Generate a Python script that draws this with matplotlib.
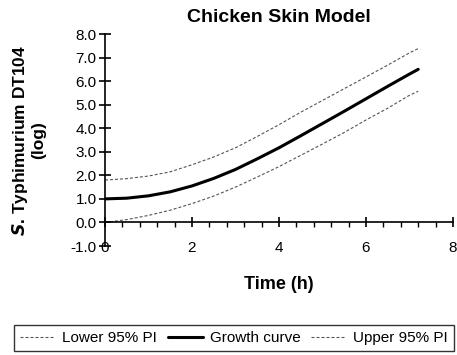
import matplotlib.pyplot as plt
from matplotlib.ticker import MultipleLocator, FormatStrFormatter

plt.rcParams['font.family'] = ['Liberation Sans', 'DejaVu Sans']

# time (h) and log counts
time_h = [0, 0.5, 1, 1.5, 2, 2.5, 3, 3.5, 4, 4.5, 5, 5.5, 6, 6.5, 7, 7.2]
growth = [1.00, 1.03, 1.13, 1.30, 1.55, 1.87, 2.25, 2.70, 3.17, 3.68,
          4.20, 4.72, 5.25, 5.78, 6.30, 6.50]
upper = [1.80, 1.86, 1.97, 2.15, 2.45, 2.78, 3.17, 3.65, 4.15, 4.68,
         5.18, 5.68, 6.18, 6.68, 7.20, 7.38]
lower = [0.00, 0.12, 0.30, 0.52, 0.80, 1.12, 1.50, 1.93, 2.37, 2.85,
         3.33, 3.82, 4.35, 4.85, 5.40, 5.57]

fig = plt.figure(figsize=(4.57, 3.55), dpi=100)
ax = fig.add_axes([105 / 457, 1 - 246 / 355, 348 / 457, 212 / 355])

pi_style = dict(color='#555555', lw=0.8, ls=(0, (2.7, 1.8)))
ax.plot(time_h, lower, label='Lower 95% PI', **pi_style)
ax.plot(time_h, growth, color='black', lw=2.2, solid_capstyle='round', label='Growth curve')
ax.plot(time_h, upper, label='Upper 95% PI', **pi_style)

ax.set_xlim(0, 8)
ax.set_ylim(-1, 8)
ax.spines['top'].set_visible(False)
ax.spines['right'].set_visible(False)
ax.spines['bottom'].set_position(('data', 0))
ax.spines['left'].set_linewidth(1.2)
ax.spines['bottom'].set_linewidth(1.2)

ax.xaxis.set_major_locator(MultipleLocator(2))
ax.xaxis.set_minor_locator(MultipleLocator(0.4))
ax.yaxis.set_major_locator(MultipleLocator(1))
ax.yaxis.set_major_formatter(FormatStrFormatter('%.1f'))

ax.tick_params(axis='x', which='major', direction='inout', length=7, width=1.2,
               pad=10, labelsize=11)
ax.tick_params(axis='x', which='minor', direction='out', length=3.5, width=1.0)
ax.tick_params(axis='y', which='major', direction='inout', length=8, width=1.2,
               pad=2, labelsize=11)

ax.set_xlabel('Time (h)', fontsize=13, fontweight='bold')
ax.xaxis.set_label_coords(0.5, -0.14)
ax.set_ylabel('$\\mathbfit{S}$. Typhimurium DT104\n(log)', fontsize=12.5,
              fontweight='bold', linespacing=1.05)
ax.yaxis.set_label_coords(-0.17, 0.5)
ax.set_title('Chicken Skin Model', fontsize=14, fontweight='bold', pad=9)

fig.legend(loc='center', bbox_to_anchor=(234 / 457, 1 - 338 / 355), ncol=3,
           fancybox=False, edgecolor='#333333', framealpha=1, fontsize=11,
           handlelength=2.3, handletextpad=0.45, columnspacing=0.7,
           borderpad=0.4, borderaxespad=0)

fig.savefig('out.png', dpi=100)
